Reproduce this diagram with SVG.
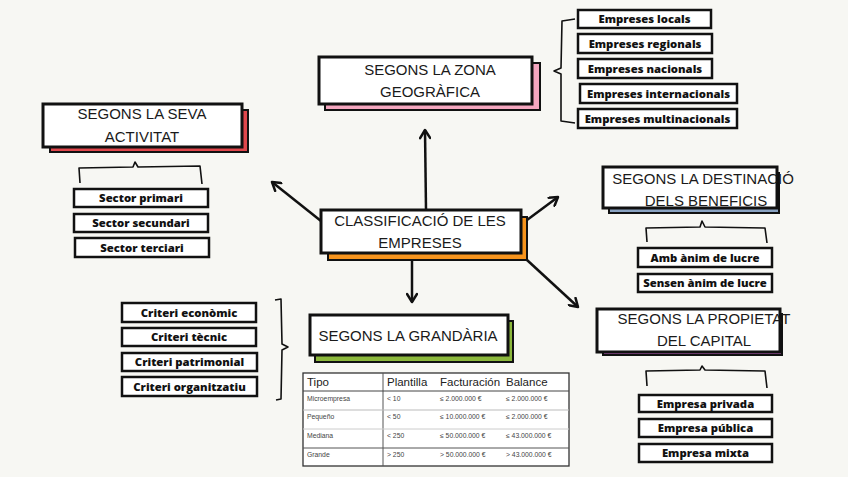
<svg xmlns="http://www.w3.org/2000/svg" width="848" height="477" viewBox="0 0 848 477">
<defs>
<style>
.bg{fill:#f7f7f3}
.w{fill:#fff;stroke:#111;stroke-width:3}
.sh{stroke:#111;stroke-width:2}
.t{font-family:"Liberation Sans",Arial,sans-serif;font-size:15px;fill:#1a1a1a;text-anchor:middle}
.lb{fill:#fff;stroke:#111;stroke-width:2.5}
.lt{font-family:"Open Sans","Liberation Sans",Arial,sans-serif;font-weight:800;font-size:11.3px;fill:#111;text-anchor:middle}
.br{fill:none;stroke:#111;stroke-width:1.6;stroke-linejoin:round}
.cn{fill:none;stroke:#111;stroke-width:2.5}
.th{font-family:"Liberation Sans",Arial,sans-serif;font-size:11.5px;fill:#222}
.td{font-family:"Liberation Sans",Arial,sans-serif;font-size:6.8px;fill:#444}
</style>
<marker id="ah" viewBox="0 0 12 12" refX="10" refY="6" markerWidth="12" markerHeight="12" orient="auto" markerUnits="userSpaceOnUse">
<path d="M2,1 L10,6 L2,11" fill="none" stroke="#111" stroke-width="2.5" stroke-linecap="round" stroke-linejoin="round"/>
</marker>
</defs>
<rect class="bg" x="0" y="0" width="848" height="477"/>

<g id="connectors">
<path class="cn" d="M426,210 L425,130" marker-end="url(#ah)"/>
<path class="cn" d="M412,253 L412,302" marker-end="url(#ah)"/>
<path class="cn" d="M321,221 L272,182" marker-end="url(#ah)"/>
<path class="cn" d="M527,220 L558,197" marker-end="url(#ah)"/>
<path class="cn" d="M527,260 L578,307" marker-end="url(#ah)"/>
</g>

<g id="center">
<rect class="sh" x="328" y="217" width="199" height="43" fill="#f7941d"/>
<rect class="w" x="321" y="210" width="200" height="43"/>
<text class="t" x="420" y="226" font-size="14.5">CLASSIFICACIÓ DE LES</text>
<text class="t" x="420" y="248" font-size="14.5">EMPRESES</text>
</g>

<g id="zona">
<rect class="sh" x="325" y="63" width="215" height="47" fill="#f4a6bf"/>
<rect class="w" x="319" y="57" width="213" height="47"/>
<text class="t" x="430" y="75">SEGONS LA ZONA</text>
<text class="t" x="430" y="97">GEOGRÀFICA</text>
</g>

<g id="zona-list">
<path class="br" d="M575,19 L562,21 L561,68 L554,71 L561,74 L561,121 L575,123"/>
<rect class="lb" x="578" y="10" width="133" height="18"/><text class="lt" x="644.5" y="23">Empreses locals</text>
<rect class="lb" x="578" y="34" width="134" height="19"/><text class="lt" x="645" y="48">Empreses regionals</text>
<rect class="lb" x="578" y="59" width="134" height="19"/><text class="lt" x="645" y="73">Empreses nacionals</text>
<rect class="lb" x="580" y="84" width="157" height="19"/><text class="lt" x="658.5" y="98">Empreses internacionals</text>
<rect class="lb" x="578" y="109" width="159" height="19"/><text class="lt" x="657.5" y="123">Empreses multinacionals</text>
</g>

<g id="activitat">
<rect class="sh" x="50" y="110" width="198" height="42" fill="#e0474c"/>
<rect class="w" x="43" y="104" width="199" height="43"/>
<text class="t" x="142" y="119">SEGONS LA SEVA</text>
<text class="t" x="142" y="142">ACTIVITAT</text>
</g>

<g id="activitat-list">
<path class="br" d="M80,183 L79,168 L133,167 L135,162 L138,167 L200,166 L202,184"/>
<rect class="lb" x="74" y="189" width="134" height="18"/><text class="lt" x="141" y="202">Sector primari</text>
<rect class="lb" x="74" y="214" width="134" height="18"/><text class="lt" x="141" y="227">Sector secundari</text>
<rect class="lb" x="75" y="238" width="134" height="19"/><text class="lt" x="142" y="252">Sector terciari</text>
</g>

<g id="destinacio">
<rect class="sh" x="609" y="173" width="170" height="40" fill="#8aa3c2"/>
<rect class="w" x="603" y="167" width="174" height="41"/>
<text class="t" x="703" y="184">SEGONS LA DESTINACIÓ</text>
<text class="t" x="706" y="206">DELS BENEFICIS</text>
</g>

<g id="destinacio-list">
<path class="br" d="M647,242 L646,228 L700,227 L702,221 L705,227 L765,228 L767,243"/>
<rect class="lb" x="638" y="248" width="134" height="19"/><text class="lt" x="705" y="262">Amb ànim de lucre</text>
<rect class="lb" x="638" y="274" width="134" height="18"/><text class="lt" x="705" y="287">Sensen ànim de lucre</text>
</g>

<g id="grandaria">
<rect class="sh" x="315" y="321" width="198" height="41" fill="#8cb83c"/>
<rect class="w" x="310" y="315" width="198" height="40"/>
<text class="t" x="408" y="341">SEGONS LA GRANDÀRIA</text>
</g>

<g id="grandaria-list">
<path class="br" d="M275,300 L281,299 L282,344 L288,347 L282,350 L281,399 L276,400"/>
<rect class="lb" x="122" y="303" width="134" height="19"/><text class="lt" x="189" y="317">Criteri econòmic</text>
<rect class="lb" x="122" y="328" width="134" height="18"/><text class="lt" x="189" y="341">Criteri tècnic</text>
<rect class="lb" x="122" y="353" width="135" height="18"/><text class="lt" x="189.5" y="366">Criteri patrimonial</text>
<rect class="lb" x="122" y="377" width="135" height="19"/><text class="lt" x="189.5" y="391">Criteri organitzatiu</text>
</g>

<g id="taula">
<rect x="303" y="373" width="266" height="93" fill="#fff" stroke="#333" stroke-width="1.3"/>
<line x1="383" y1="373" x2="383" y2="466" stroke="#555" stroke-width="1"/>
<line x1="303" y1="391" x2="569" y2="391" stroke="#444" stroke-width="1"/>
<line x1="303" y1="410" x2="569" y2="410" stroke="#bbb" stroke-width="1"/>
<line x1="303" y1="429" x2="569" y2="429" stroke="#ccc" stroke-width="1"/>
<line x1="303" y1="448" x2="569" y2="448" stroke="#555" stroke-width="1"/>
<text class="th" x="307" y="386">Tipo</text>
<text class="th" x="387" y="386">Plantilla</text>
<text class="th" x="440" y="386">Facturación</text>
<text class="th" x="506" y="386">Balance</text>
<text class="td" x="307" y="401">Microempresa</text>
<text class="td" x="387" y="401">&lt; 10</text>
<text class="td" x="440" y="401">≤ 2.000.000 €</text>
<text class="td" x="506" y="401">≤ 2.000.000 €</text>
<text class="td" x="307" y="419">Pequeño</text>
<text class="td" x="387" y="419">&lt; 50</text>
<text class="td" x="440" y="419">≤ 10.000.000 €</text>
<text class="td" x="506" y="419">≤ 2.000.000 €</text>
<text class="td" x="307" y="438">Mediana</text>
<text class="td" x="387" y="438">&lt; 250</text>
<text class="td" x="440" y="438">≤ 50.000.000 €</text>
<text class="td" x="506" y="438">≤ 43.000.000 €</text>
<text class="td" x="307" y="457">Grande</text>
<text class="td" x="387" y="457">&gt; 250</text>
<text class="td" x="440" y="457">&gt; 50.000.000 €</text>
<text class="td" x="506" y="457">&gt; 43.000.000 €</text>
</g>

<g id="propietat">
<rect class="sh" x="603" y="314" width="179" height="41" fill="#c262c2"/>
<rect class="w" x="597" y="309" width="183" height="43"/>
<text class="t" x="704" y="324">SEGONS LA PROPIETAT</text>
<text class="t" x="704" y="346">DEL CAPITAL</text>
</g>

<g id="propietat-list">
<path class="br" d="M647,386 L646,371 L700,370 L702,366 L705,370 L765,371 L767,388"/>
<rect class="lb" x="639" y="395" width="133" height="17"/><text class="lt" x="705.5" y="408">Empresa privada</text>
<rect class="lb" x="639" y="419" width="133" height="18"/><text class="lt" x="705.5" y="432">Empresa pública</text>
<rect class="lb" x="639" y="444" width="133" height="18"/><text class="lt" x="705.5" y="457">Empresa mixta</text>
</g>
</svg>
